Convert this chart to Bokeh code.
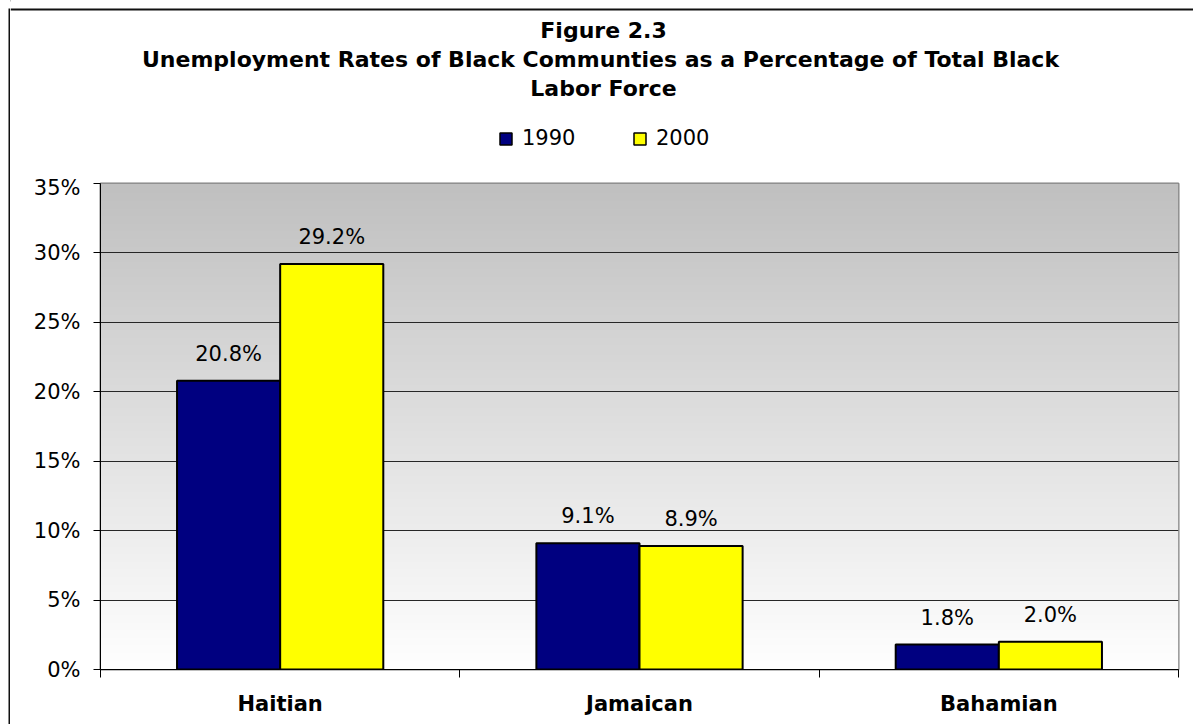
import numpy as np
from bokeh.plotting import figure
from bokeh.layouts import column, row
from bokeh.models import (Range1d, FixedTicker, PrintfTickFormatter, Legend, LegendItem,
                          ColumnDataSource)
from bokeh.core.properties import value
from bokeh.embed import file_html
from bokeh.resources import INLINE

# ---- data ----
categories = ["Haitian", "Jamaican", "Bahamian"]
years = ["1990", "2000"]
rates_1990 = [20.8, 9.1, 1.8]
rates_2000 = [29.2, 8.9, 2.0]
y_ticks = [0, 5, 10, 15, 20, 25, 30, 35]
title_lines = ["Figure 2.3",
               "Unemployment Rates of Black Communties as a Percentage of Total Black",
               "Labor Force"]
colors = ["#000080", "#FFFF00"]

FONT = "DejaVu Sans"
BAR_W = 0.287
OFF = BAR_W / 2
W, H = 1193, 724
STRIP_W = 10
HEAD_H = 175
MAIN_H = H - HEAD_H
BORDER = "#101010"


def blank(width, height, x_range, y_range):
    f = figure(width=width, height=height, output_backend="svg", toolbar_location=None,
               x_range=x_range, y_range=y_range, min_border=0,
               x_axis_location=None, y_axis_location=None)
    f.frame_align = False
    f.grid.visible = False
    f.outline_line_color = None
    f.background_fill_color = "white"
    f.border_fill_color = "white"
    return f


# ---------------- left strip: outer frame line ----------------
strip = blank(STRIP_W, H, Range1d(0, STRIP_W), Range1d(H, 0))
strip.quad(left=[8], right=[10], top=[8], bottom=[H], fill_color=BORDER, line_color=None)

# ---------------- header: outer frame top line, title, legend ----------------
head = blank(W - STRIP_W, HEAD_H, Range1d(STRIP_W, W), Range1d(HEAD_H, 0))
head.quad(left=[STRIP_W], right=[W], top=[8], bottom=[10], fill_color=BORDER, line_color=None)
head.text(x=[603, 600, 603], y=[29.5, 58.5, 88], text=title_lines,
          text_align="center", text_baseline="middle", text_font=value(FONT),
          text_font_style="bold", text_font_size="22px", text_color="black")
# legend swatch renderers (their single point lies outside the header view)
lr1 = head.vbar(x=[-100], top=[0], bottom=[0], width=1, fill_color=colors[0],
                line_color="black", line_width=1.5)
lr2 = head.vbar(x=[-100], top=[0], bottom=[0], width=1, fill_color=colors[1],
                line_color="black", line_width=1.5)
legend = Legend(items=[LegendItem(label=years[0], renderers=[lr1]),
                       LegendItem(label=years[1], renderers=[lr2])],
                orientation="horizontal", location=(488, 25),
                glyph_width=15, glyph_height=15, label_standoff=9,
                label_width=110, label_height=15, spacing=0, padding=0, margin=0,
                border_line_color=None, background_fill_alpha=0,
                label_text_font=FONT, label_text_font_size="21px", label_text_color="black",
                label_text_baseline="alphabetic")
head.add_layout(legend)

# ---------------- main chart ----------------
p = figure(width=W - STRIP_W, height=MAIN_H, output_backend="svg", toolbar_location=None,
           x_range=Range1d(0, len(categories)), y_range=Range1d(0, 35),
           min_border_left=90, min_border_right=15, min_border_top=8, min_border_bottom=55)
p.frame_align = False
p.background_fill_color = "white"
p.border_fill_color = "white"
p.outline_line_color = "#808080"
p.outline_line_width = 2

# gradient background (styling only)
N = 256
img = np.empty((N, 1), dtype=np.uint32)
view = img.view(dtype=np.uint8).reshape((N, 1, 4))
g = np.linspace(255, 192, N).astype(np.uint8)
view[:, 0, 0] = g
view[:, 0, 1] = g
view[:, 0, 2] = g
view[:, 0, 3] = 255
p.image_rgba(image=[img], x=0, y=0, dw=len(categories), dh=35, level="image")

p.xgrid.visible = False
p.ygrid.ticker = FixedTicker(ticks=y_ticks)
p.ygrid.grid_line_color = "#262626"
p.ygrid.grid_line_width = 1

idx = np.arange(len(categories)) + 0.5
src1 = ColumnDataSource(dict(x=idx - OFF, top=rates_1990, lab=[f"{v:.1f}%" for v in rates_1990]))
src2 = ColumnDataSource(dict(x=idx + OFF, top=rates_2000, lab=[f"{v:.1f}%" for v in rates_2000]))
r1 = p.vbar(x="x", top="top", width=BAR_W, source=src1, fill_color=colors[0],
            line_color="black", line_width=2)
r2 = p.vbar(x="x", top="top", width=BAR_W, source=src2, fill_color=colors[1],
            line_color="black", line_width=2)
for src in (src1, src2):
    p.text(x="x", y="top", text="lab", source=src, text_align="center",
           text_baseline="middle", y_offset=-27, text_font=value(FONT),
           text_font_size="21px", text_color="black")

ya = p.yaxis[0]
ya.ticker = FixedTicker(ticks=y_ticks)
ya.formatter = PrintfTickFormatter(format="%d%%")
ya.axis_line_color = "black"
ya.major_tick_out = 7
ya.major_tick_in = 0
ya.minor_tick_line_color = None
ya.major_label_standoff = 13
ya.major_label_text_font = FONT
ya.major_label_text_font_size = "21px"
ya.major_label_text_color = "black"

xa = p.xaxis[0]
xa.ticker = FixedTicker(ticks=list(idx), minor_ticks=list(range(len(categories) + 1)))
xa.major_label_overrides = {float(v): c for v, c in zip(idx, categories)}
xa.axis_line_color = "black"
xa.major_tick_out = 0
xa.major_tick_in = 0
xa.minor_tick_out = 8
xa.minor_tick_in = 0
xa.minor_tick_line_color = "black"
xa.major_label_standoff = 14
xa.major_label_text_font = FONT
xa.major_label_text_font_style = "bold"
xa.major_label_text_font_size = "21px"
xa.major_label_text_color = "black"

layout = row(strip, column(head, p, spacing=0), spacing=0)
open("out.html", "w").write(file_html(layout, INLINE))
